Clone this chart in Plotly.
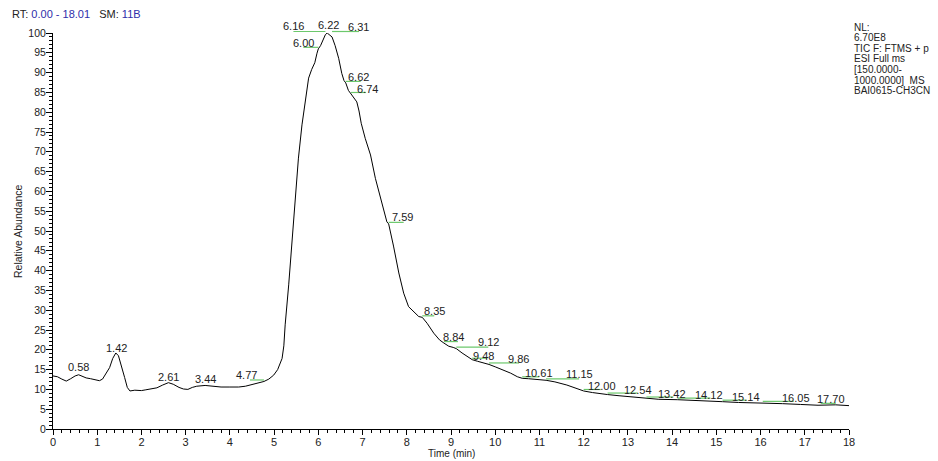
import plotly.graph_objects as go

# ---- data: chromatogram trace (time in min, relative abundance %) ----
time_min = [0.00, 0.10, 0.20, 0.30, 0.40, 0.50, 0.58, 0.65, 0.75, 0.85, 0.95, 1.05, 1.12, 1.20,
            1.28, 1.35, 1.42, 1.48, 1.55, 1.62, 1.68, 1.74, 1.85, 2.00, 2.10, 2.20, 2.35, 2.48,
            2.61, 2.72, 2.85, 2.95, 3.05, 3.15, 3.25, 3.44, 3.60, 3.80, 4.00, 4.20, 4.35, 4.50,
            4.65, 4.77, 4.88, 4.99, 5.08, 5.18, 5.22, 5.25, 5.33, 5.40, 5.48, 5.55, 5.63, 5.71,
            5.78, 5.85, 5.92, 5.97, 6.00, 6.05, 6.12, 6.16, 6.20, 6.22, 6.26, 6.31, 6.38, 6.46,
            6.53, 6.58, 6.62, 6.68, 6.74, 6.80, 6.87, 6.92, 6.97, 7.06, 7.18, 7.29, 7.40, 7.48,
            7.55, 7.59, 7.64, 7.70, 7.82, 7.93, 8.04, 8.15, 8.27, 8.35, 8.46, 8.61, 8.74, 8.84,
            8.95, 9.05, 9.12, 9.25, 9.36, 9.48, 9.60, 9.75, 9.86, 10.00, 10.19, 10.35, 10.50,
            10.61, 10.75, 10.90, 11.05, 11.15, 11.35, 11.62, 11.85, 12.00, 12.20, 12.40, 12.54,
            12.80, 13.13, 13.42, 13.70, 14.12, 14.40, 14.70, 15.14, 15.50, 16.05, 16.50, 16.90,
            17.30, 17.70, 18.00]
abundance = [13.4, 13.2, 12.6, 12.1, 12.7, 13.4, 13.7, 13.4, 12.9, 12.7, 12.4, 12.2, 12.6, 14.0,
             15.5, 17.8, 19.2, 18.5, 16.0, 13.0, 10.5, 9.6, 9.8, 9.7, 9.9, 10.1, 10.4, 11.1,
             11.7, 11.3, 10.5, 10.1, 10.0, 10.5, 10.8, 11.0, 10.8, 10.6, 10.6, 10.6, 10.8, 11.2,
             11.6, 12.0, 12.6, 13.6, 15.0, 17.8, 21.0, 26.3, 36.4, 47.3, 59.9, 68.4, 76.8, 83.5,
             88.6, 90.8, 92.5, 94.9, 96.0, 96.8, 98.7, 99.6, 100.0, 99.8, 99.4, 99.0, 96.8, 93.6,
             89.8, 88.0, 87.4, 85.5, 84.6, 83.8, 82.6, 80.3, 77.2, 73.4, 69.2, 63.3, 58.8, 55.3,
             52.3, 51.8, 49.5, 46.2, 39.4, 34.3, 30.9, 29.6, 28.4, 28.2, 26.7, 24.2, 22.5, 21.7,
             20.9, 20.6, 20.3, 19.2, 18.4, 17.5, 17.1, 16.7, 16.3, 15.7, 14.9, 14.1, 13.2,
             12.8, 12.7, 12.6, 12.4, 12.3, 11.9, 11.1, 10.2, 9.6, 9.2, 8.8, 8.7,
             8.4, 8.1, 7.7, 7.5, 7.4, 7.3, 7.2, 6.9, 6.7, 6.6, 6.4, 6.2,
             6.0, 6.1, 5.9]

# ---- peak labels (retention time, abundance at that time) ----
peak_rt = [0.58, 1.42, 2.61, 3.44, 4.77, 6.00, 6.16, 6.22, 6.31, 6.62, 6.74, 7.59, 8.35, 8.84,
           9.12, 9.48, 9.86, 10.61, 11.15, 12.00, 12.54, 13.42, 14.12, 15.14, 16.05, 17.70]
peak_ab = [13.7, 19.2, 11.7, 11.0, 12.0, 96.0, 100.0, 100.0, 100.0, 87.4, 84.6, 51.8, 28.2, 21.7,
           20.3, 17.5, 16.3, 12.8, 12.3, 9.6, 8.7, 7.7, 7.4, 6.9, 6.6, 6.1]

# ---- tick labels ----
x_ticks = list(range(0, 19))
y_ticks = list(range(0, 101, 5))

# ---- header texts ----
rt_range = "0.00 - 18.01"
smoothing = "11B"
info_lines = ["NL:", "6.70E8", "TIC F: FTMS + p", "ESI Full ms", "[150.0000-",
              "1000.0000]  MS", "BAI0615-CH3CN"]

# ---- styling (label placement in pixels) ----
label_dx = [0, 1, 0, 0, -17, -15, -32, 0, 26, 13, 16, 14, 12, 10, 32, 11, 29, 17, 33, 18, 30, 26, 32, 23, 33, -5]
label_dy = [8, 5, 6, 6, 6, 6, 7, 8, 6, 6, 5, 7, 6, 6, 7, 4, 5, 5, 6, 5, 5, 5, 5, 5, 5, 6]
leader_len = [0, 0, 0, 0, -14, -15, -32, 0, 27, 15, 15, 15, 12, 14, 32, 15, 30, 17, 33, 17, 30, 27, 33, 24, 31, -15]

FONT = "Arial, Liberation Sans, sans-serif"
W, H = 938, 461
ML, MR, MT, MB = 53, 89, 33, 32
X_RANGE = [0, 18]
Y_RANGE = [0, 100]

fig = go.Figure()
fig.add_trace(go.Scatter(x=time_min, y=abundance, mode="lines",
                         line=dict(color="black", width=1), hoverinfo="skip",
                         showlegend=False))

shapes = []
annotations = []
for t, v, dx, dy, ll in zip(peak_rt, peak_ab, label_dx, label_dy, leader_len):
    if ll != 0:
        # leader anchored at the peak point (converted through the axis ranges)
        xp = (t - X_RANGE[0]) / (X_RANGE[1] - X_RANGE[0])
        yp = (v - Y_RANGE[0]) / (Y_RANGE[1] - Y_RANGE[0])
        shapes.append(dict(type="line", xref="paper", yref="paper",
                           xsizemode="pixel", ysizemode="pixel",
                           xanchor=xp, yanchor=yp, x0=0, x1=ll, y0=1.5, y1=1.5,
                           line=dict(color="#6cc86c", width=1.2)))
    annotations.append(dict(x=t, y=v, xref="x", yref="y", text=f"{t:.2f}",
                            showarrow=False, xshift=dx, yshift=dy,
                            font=dict(family=FONT, size=11, color="#222222")))

blue = "#2e2eaa"
sp = "\u00a0"
annotations.append(dict(xref="paper", yref="paper", x=0, y=1, xanchor="left", yanchor="middle",
                        xshift=10 - ML, yshift=MT - 14, showarrow=False,
                        text=f"RT:{sp}<span style='color:{blue}'>{rt_range}</span>{sp*3}SM:{sp}"
                             f"<span style='color:{blue}'>{smoothing}</span>",
                        font=dict(family=FONT, size=11, color="#222222")))
for i, line in enumerate(info_lines):
    annotations.append(dict(xref="paper", yref="paper", x=1, y=1, xanchor="left", yanchor="middle",
                            xshift=852 - (W - MR), yshift=MT - 27 - i * 10.6, showarrow=False,
                            text=line.replace(" ", sp),
                            font=dict(family=FONT, size=10, color="#222222")))
annotations.append(dict(xref="paper", yref="paper", x=0.5, y=0, xanchor="center", yanchor="middle",
                        yshift=-24, showarrow=False, text="Time (min)",
                        font=dict(family=FONT, size=10, color="#222222")))
annotations.append(dict(xref="paper", yref="paper", x=0, y=0.5, xanchor="center", yanchor="middle",
                        xshift=-35, textangle=-90, showarrow=False, text="Relative Abundance",
                        font=dict(family=FONT, size=10.5, color="#222222")))

fig.update_layout(
    width=W, height=H,
    margin=dict(l=ML, r=MR, t=MT, b=MB),
    paper_bgcolor="white", plot_bgcolor="white",
    shapes=shapes, annotations=annotations,
    font=dict(family=FONT, color="#222222"),
    xaxis=dict(range=X_RANGE, tickvals=x_ticks, ticktext=[str(v) for v in x_ticks],
               showgrid=False, zeroline=False, showline=True, linecolor="black", linewidth=1,
               ticks="outside", ticklen=5, tickcolor="black", tickwidth=1, ticklabelstandoff=-2,
               tickfont=dict(family=FONT, size=11, color="#222222"),
               minor=dict(dtick=0.2, ticks="outside", ticklen=3, tickcolor="black", showgrid=False)),
    yaxis=dict(range=Y_RANGE, tickvals=y_ticks, ticktext=[str(v) for v in y_ticks],
               showgrid=False, zeroline=False, showline=True, linecolor="black", linewidth=1,
               ticks="outside", ticklen=6, tickcolor="black", tickwidth=1, ticklabelstandoff=-2,
               tickfont=dict(family=FONT, size=10.5, color="#222222"),
               minor=dict(dtick=1, ticks="outside", ticklen=3, tickcolor="black", showgrid=False)),
)

fig.write_html("out.html", config={"displayModeBar": False},
               post_script="document.body.style.margin='0';")
